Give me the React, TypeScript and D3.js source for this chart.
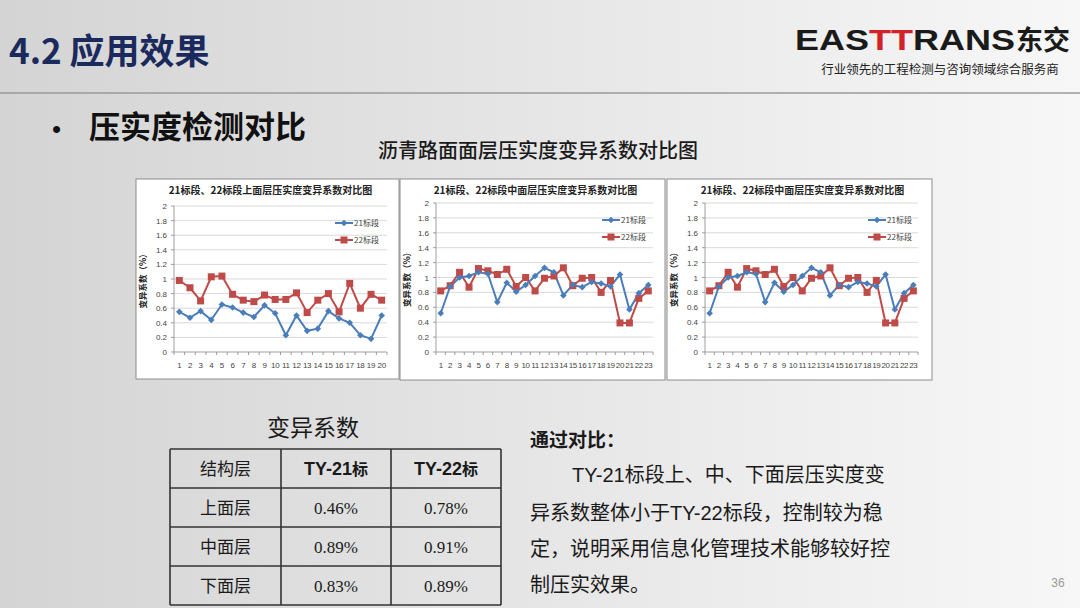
import React from "react";
import * as d3 from "d3";

const upperCats = d3.range(1, 21).map(String);
const upper21 = [0.55, 0.47, 0.56, 0.44, 0.65, 0.61, 0.54, 0.48, 0.64, 0.53, 0.23, 0.50, 0.29, 0.32, 0.56, 0.46, 0.40, 0.23, 0.18, 0.50];
const upper22 = [0.98, 0.88, 0.70, 1.03, 1.04, 0.79, 0.71, 0.69, 0.78, 0.72, 0.72, 0.81, 0.54, 0.71, 0.80, 0.55, 0.94, 0.60, 0.79, 0.71];

const midCats = d3.range(1, 24).map(String);
const mid21 = [0.52, 0.88, 1.00, 1.02, 1.07, 1.05, 0.67, 0.93, 0.81, 0.90, 1.02, 1.13, 1.07, 0.76, 0.90, 0.87, 0.94, 0.92, 0.88, 1.04, 0.57, 0.79, 0.90];
const mid22 = [0.82, 0.89, 1.07, 0.87, 1.12, 1.09, 1.04, 1.11, 0.88, 1.00, 0.82, 0.99, 1.02, 1.13, 0.89, 0.99, 1.00, 0.80, 0.96, 0.39, 0.39, 0.72, 0.82];

const yTicks = [0, 0.2, 0.4, 0.6, 0.8, 1, 1.2, 1.4, 1.6, 1.8, 2];
const seriesNames = ["21标段", "22标段"];

const tableHeader = ["结构层", "TY-21标", "TY-22标"];
const tableRows = [
  ["上面层", "0.46%", "0.78%"],
  ["中面层", "0.89%", "0.91%"],
  ["下面层", "0.83%", "0.89%"],
];

const BLUE = "#4a7ebb";
const RED = "#be4b48";
const CJK = "'Noto Sans CJK SC', 'Noto Sans', sans-serif";
const LAT = "'Liberation Sans', Arial, sans-serif";
const SERIF = "'Liberation Serif', 'DejaVu Serif', serif";

type ChartProps = {
  x: number; y: number; w: number; h: number;
  plotL: number; plotR: number; plotT: number; plotB: number;
  title: string; cats: string[]; s21: number[]; s22: number[];
  legX: number; legY: number;
};

function MiniChart(p: ChartProps) {
  const xs = d3.scaleBand().domain(p.cats).range([p.plotL, p.plotR]);
  const ys = d3.scaleLinear().domain([0, 2]).range([p.plotB, p.plotT]);
  const cx = (c: string) => (xs(c) as number) + xs.bandwidth() / 2;
  const line = d3.line<number>().x((_, i) => cx(p.cats[i])).y((v) => ys(v));
  const diamond = d3.symbol().type(d3.symbolDiamond2).size(28)();
  return (
    <g>
      <rect x={p.x} y={p.y} width={p.w} height={p.h} fill="#ffffff" stroke="#8c8c8c" strokeWidth={1} />
      <text x={p.x + p.w / 2 + 3} y={p.y + 15} textAnchor="middle" fontFamily={CJK} fontWeight={700} fontSize={10} fill="#222">{p.title}</text>
      {yTicks.map((t) => (
        <g key={t}>
          {t > 0 && <line x1={p.plotL} x2={p.plotR} y1={ys(t)} y2={ys(t)} stroke="#d0d0d0" strokeWidth={0.8} />}
          <line x1={p.plotL - 3} x2={p.plotL} y1={ys(t)} y2={ys(t)} stroke="#888" strokeWidth={0.8} />
          <text x={p.plotL - 7} y={ys(t) + 3} textAnchor="end" fontFamily={LAT} fontSize={8} fill="#444">{String(t)}</text>
        </g>
      ))}
      <line x1={p.plotL} x2={p.plotL} y1={p.plotT} y2={p.plotB} stroke="#888" strokeWidth={0.8} />
      <line x1={p.plotL} x2={p.plotR} y1={p.plotB} y2={p.plotB} stroke="#888" strokeWidth={0.8} />
      {p.cats.map((c) => (
        <line key={"t" + c} x1={xs(c) as number} x2={xs(c) as number} y1={p.plotB} y2={p.plotB + 3} stroke="#888" strokeWidth={0.8} />
      ))}
      <line x1={p.plotR} x2={p.plotR} y1={p.plotB} y2={p.plotB + 3} stroke="#888" strokeWidth={0.8} />
      {p.cats.map((c) => (
        <text key={"l" + c} x={cx(c)} y={p.plotB + 16} textAnchor="middle" fontFamily={LAT} fontSize={8} letterSpacing={-0.3} fill="#444">{c}</text>
      ))}
      <text transform={`translate(${p.x + 10},${(p.plotT + p.plotB) / 2}) rotate(-90)`} textAnchor="middle" fontFamily={CJK} fontWeight={700} fontSize={8.5} fill="#222">变异系数（%）</text>
      <path d={line(p.s22) as string} fill="none" stroke={RED} strokeWidth={2} />
      <path d={line(p.s21) as string} fill="none" stroke={BLUE} strokeWidth={2} />
      {p.s22.map((v, i) => (
        <rect key={"r" + i} x={cx(p.cats[i]) - 3.5} y={ys(v) - 3.5} width={7} height={7} fill={RED} />
      ))}
      {p.s21.map((v, i) => (
        <path key={"b" + i} d={diamond as string} transform={`translate(${cx(p.cats[i])},${ys(v)})`} fill={BLUE} />
      ))}
      <line x1={p.legX} x2={p.legX + 18} y1={p.legY} y2={p.legY} stroke={BLUE} strokeWidth={2} />
      <path d={diamond as string} transform={`translate(${p.legX + 9},${p.legY})`} fill={BLUE} />
      <text x={p.legX + 19} y={p.legY + 3} fontFamily={CJK} fontSize={8} fill="#444">{seriesNames[0]}</text>
      <line x1={p.legX} x2={p.legX + 18} y1={p.legY + 17} y2={p.legY + 17} stroke={RED} strokeWidth={2} />
      <rect x={p.legX + 5.5} y={p.legY + 13.5} width={7} height={7} fill={RED} />
      <text x={p.legX + 19} y={p.legY + 20} fontFamily={CJK} fontSize={8} fill="#444">{seriesNames[1]}</text>
    </g>
  );
}

export default function App() {
  const colX = [170, 281, 391, 501];
  const rowY = [449, 488, 527, 566, 605];
  const bodyLines = [
    { x: 572, y: 482, parts: [["TY-21", true], ["标段上、中、下面层压实度变", false]] },
    { x: 530, y: 520, parts: [["异系数整体小于", false], ["TY-22", true], ["标段，控制较为稳", false]] },
    { x: 530, y: 556, parts: [["定，说明采用信息化管理技术能够较好控", false]] },
    { x: 530, y: 592, parts: [["制压实效果。", false]] },
  ] as { x: number; y: number; parts: [string, boolean][] }[];
  return (
    <div style={{ position: "fixed", left: 0, top: 0, width: 1080, height: 608 }}>
      <svg width={1080} height={608} style={{ display: "block" }}>
        <defs>
          <linearGradient id="bg" x1="0" y1="0" x2="1" y2="0">
            <stop offset="0" stopColor="#d4d4d4" />
            <stop offset="0.5" stopColor="#e6e6e6" />
            <stop offset="1" stopColor="#f7f7f7" />
          </linearGradient>
        </defs>
        <rect width={1080} height={608} fill="url(#bg)" />
        <text x={9} y={64} fontFamily={CJK} fontWeight={700} fontSize={35} fill="#1b2a5c">4.2 应用效果</text>
        <line x1={0} x2={1080} y1={93} y2={93} stroke="#9a9a9a" strokeWidth={1.5} />
        <text x={795} y={50} textLength={220} lengthAdjust="spacingAndGlyphs" fontFamily={LAT} fontWeight={700} fontSize={30} fill="#1a1a1a">
          EAS<tspan fill="#d42027">TT</tspan>RANS
        </text>
        <text x={1016} y={50} fontFamily={CJK} fontWeight={700} fontSize={27} fill="#1a1a1a">东交</text>
        <text x={940} y={74} textAnchor="middle" fontFamily={CJK} fontSize={12.5} fill="#222">行业领先的工程检测与咨询领域综合服务商</text>
        <text x={52} y={138} fontFamily={LAT} fontSize={26} fill="#111">•</text>
        <text x={89} y={138} fontFamily={CJK} fontWeight={700} fontSize={31} fill="#111">压实度检测对比</text>
        <text x={538} y={158} textAnchor="middle" fontFamily={CJK} fontWeight={500} fontSize={20} fill="#1a1a1a">沥青路面面层压实度变异系数对比图</text>

        <MiniChart x={136} y={179} w={263} h={200} plotL={174} plotR={387} plotT={206} plotB={352}
          title="21标段、22标段上面层压实度变异系数对比图" cats={upperCats} s21={upper21} s22={upper22} legX={335} legY={223} />
        <MiniChart x={400} y={179} w={265} h={201} plotL={436} plotR={653} plotT={203} plotB={352}
          title="21标段、22标段中面层压实度变异系数对比图" cats={midCats} s21={mid21} s22={mid22} legX={602} legY={220} />
        <MiniChart x={667} y={179} w={265} h={201} plotL={705} plotR={918} plotT={203} plotB={352}
          title="21标段、22标段中面层压实度变异系数对比图" cats={midCats} s21={mid21} s22={mid22} legX={868} legY={220} />

        <text x={313} y={436} textAnchor="middle" fontFamily={CJK} fontSize={23} fill="#1a1a1a">变异系数</text>
        {[tableHeader, ...tableRows].map((row, ri) =>
          row.map((cell, ci) => {
            const isBold = ri === 0 && ci > 0;
            const isNum = ri > 0 && ci > 0;
            const tx = (colX[ci] + colX[ci + 1]) / 2;
            const ty = (rowY[ri] + rowY[ri + 1]) / 2 + 6;
            return (
              <text key={ri + "-" + ci} x={tx} y={ty} textAnchor="middle" fontFamily={isBold ? LAT : isNum ? SERIF : CJK}
                fontWeight={isBold ? 700 : 400} fontSize={isBold ? 18 : 17} fill="#1a1a1a">
                {isBold ? (<>{cell.replace("标", "")}<tspan fontFamily={CJK} fontSize={16}>标</tspan></>) : cell}
              </text>
            );
          })
        )}
        {colX.map((x, i) => (
          <line key={"c" + i} x1={x} x2={x} y1={rowY[0]} y2={rowY[4]} stroke="#333" strokeWidth={1.6} />
        ))}
        {rowY.map((y, i) => (
          <line key={"r" + i} x1={colX[0]} x2={colX[3]} y1={y} y2={y} stroke="#333" strokeWidth={1.6} />
        ))}

        <text x={530} y={447} fontFamily={CJK} fontWeight={700} fontSize={19} fill="#1a1a1a">通过对比：</text>
        {bodyLines.map((ln, i) => (
          <text key={"b" + i} x={ln.x} y={ln.y} fontFamily={CJK} fontSize={20} fill="#1a1a1a">
            {ln.parts.map(([s, b], j) => (
              <tspan key={j} fontFamily={b ? LAT : CJK} fontSize={20}>{s}</tspan>
            ))}
          </text>
        ))}
        <text x={1058} y={587} textAnchor="middle" fontFamily={LAT} fontSize={12} fill="#9a9a9a">36</text>
      </svg>
    </div>
  );
}
